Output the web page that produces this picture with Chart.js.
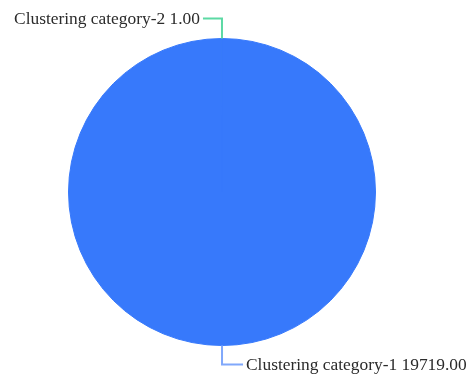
<!DOCTYPE html>
<html lang="en">
<head>
    <meta charset="UTF-8">
    <title>Clustering categories</title>
    <script src="https://cdn.jsdelivr.net/npm/chart.js"></script>
    <style>
        body { margin: 0; background: #fff; }
        canvas { display: block; }
    </style>
</head>
<body>
    <canvas id="pieChart" width="467" height="378"></canvas>

    <script>
        // chart data
        const categories = ['Clustering category-1', 'Clustering category-2'];
        const counts = [19719, 1];
        const sliceColors = ['#3779fb', '#4fd39a'];
        const lineColors = ['#80a8fb', '#5cd9a4'];

        // leader lines + labels next to each slice
        const leaderLabels = {
            id: 'leaderLabels',
            afterDatasetsDraw(chart) {
                const ctx = chart.ctx;
                const meta = chart.getDatasetMeta(0);
                ctx.save();
                ctx.font = '17.4px "Liberation Serif", "Times New Roman", serif';
                ctx.textBaseline = 'middle';
                meta.data.forEach((arc, i) => {
                    const p = arc.getProps(['x', 'y', 'startAngle', 'endAngle', 'outerRadius'], true);
                    const mid = (p.startAngle + p.endAngle) / 2;
                    const x0 = p.x + Math.cos(mid) * p.outerRadius;
                    const y0 = p.y + Math.sin(mid) * p.outerRadius;
                    const down = Math.sin(mid) > 0;
                    const right = Math.cos(mid) >= 0;
                    const y1 = y0 + (down ? 19 : -20);
                    const x2 = x0 + (right ? 21 : -19);

                    ctx.strokeStyle = lineColors[i];
                    ctx.lineWidth = 2;
                    ctx.beginPath();
                    ctx.moveTo(x0, y0);
                    ctx.lineTo(x0, y1);
                    ctx.lineTo(x2, y1);
                    ctx.stroke();

                    ctx.fillStyle = '#2b2b2b';
                    ctx.textAlign = right ? 'left' : 'right';
                    const txt = categories[i] + ' ' + counts[i].toFixed(2);
                    ctx.fillText(txt, x2 + (right ? 3 : -3), y1 + 1);
                });
                ctx.restore();
            }
        };

        new Chart(document.getElementById('pieChart'), {
            type: 'pie',
            data: {
                labels: categories,
                datasets: [{
                    data: counts,
                    backgroundColor: sliceColors,
                    borderColor: '#3779fb',
                    borderWidth: 1
                }]
            },
            options: {
                responsive: false,
                animation: false,
                layout: {
                    padding: { left: 68, right: 91, top: 38, bottom: 32 }
                },
                plugins: {
                    legend: { display: false },
                    tooltip: { enabled: false }
                }
            },
            plugins: [leaderLabels]
        });
    </script>
</body>
</html>
